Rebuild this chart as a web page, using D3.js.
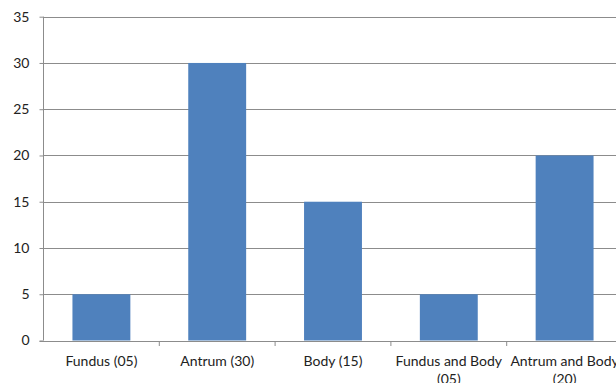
<!DOCTYPE html>
<html>
<head>
<meta charset="utf-8">
<script src="https://cdn.jsdelivr.net/npm/d3@7"></script>
<style>
  html, body { margin: 0; padding: 0; background: #fff; overflow: hidden; }
  svg { display: block; }
  text { font-family: Lato, "Open Sans", sans-serif; fill: #222; }
</style>
</head>
<body>
<svg id="chart" width="616" height="383"></svg>
<script>
// Cases by site of lesion
const categories = [
  ["Fundus (05)"],
  ["Antrum (30)"],
  ["Body (15)"],
  ["Fundus and Body", "(05)"],
  ["Antrum and Body", "(20)"]
];
const values = [5, 30, 15, 5, 20];
const yTicks = [0, 5, 10, 15, 20, 25, 30, 35];

const svg = d3.select("#chart");
const plot = { left: 43.5, right: 622.5, top: 16.7, bottom: 340.5 };

const x = d3.scaleBand()
  .domain(d3.range(categories.length))
  .range([plot.left, plot.right])
  .paddingInner(0.5)
  .paddingOuter(0.25);

const y = d3.scaleLinear().domain([0, 35]).range([plot.bottom, plot.top]);

// Horizontal gridlines
svg.append("g")
  .selectAll("line")
  .data(yTicks.filter(d => d > 0))
  .join("line")
  .attr("x1", plot.left).attr("x2", plot.right)
  .attr("y1", d => Math.round(y(d)) + 0.5).attr("y2", d => Math.round(y(d)) + 0.5)
  .attr("stroke", "#8c8c8c").attr("stroke-width", 1);

// Bars
svg.append("g")
  .selectAll("rect")
  .data(values)
  .join("rect")
  .attr("x", (d, i) => x(i))
  .attr("width", x.bandwidth())
  .attr("y", d => y(d))
  .attr("height", d => y(0) - y(d))
  .attr("fill", "#4f81bd");

// Y axis
const yAxis = d3.axisLeft(y).tickValues(yTicks).tickSize(4).tickPadding(10);
const gy = svg.append("g")
  .attr("transform", `translate(${plot.left},0)`)
  .call(yAxis);
gy.selectAll("path, line").attr("stroke", "#8c8c8c");
gy.select(".domain").attr("d", `M0,${plot.top}V${plot.bottom}`);
gy.selectAll("text").style("font-family", "Lato, 'Open Sans', sans-serif").style("font-size", "14px").attr("fill", "#222");

// X axis line with boundary ticks between categories
const gx = svg.append("g");
gx.append("line")
  .attr("x1", plot.left - 4).attr("x2", plot.right)
  .attr("y1", Math.round(plot.bottom) + 0.5).attr("y2", Math.round(plot.bottom) + 0.5)
  .attr("stroke", "#8c8c8c");
const step = x.step();
gx.selectAll("line.tk")
  .data(d3.range(1, categories.length))
  .join("line")
  .attr("class", "tk")
  .attr("x1", i => plot.left + i * step).attr("x2", i => plot.left + i * step)
  .attr("y1", Math.round(plot.bottom)).attr("y2", Math.round(plot.bottom) + 5)
  .attr("stroke", "#8c8c8c");

// Category labels
const lab = gx.selectAll("text")
  .data(categories)
  .join("text")
  .attr("text-anchor", "middle")
  .attr("x", (d, i) => x(i) + x.bandwidth() / 2)
  .attr("y", 366)
  .style("font-size", "14px");
lab.selectAll("tspan")
  .data(d => d)
  .join("tspan")
  .attr("x", function() { return d3.select(this.parentNode).attr("x"); })
  .attr("dy", (d, i) => i === 0 ? 0 : 18)
  .text(d => d);
</script>
</body>
</html>
